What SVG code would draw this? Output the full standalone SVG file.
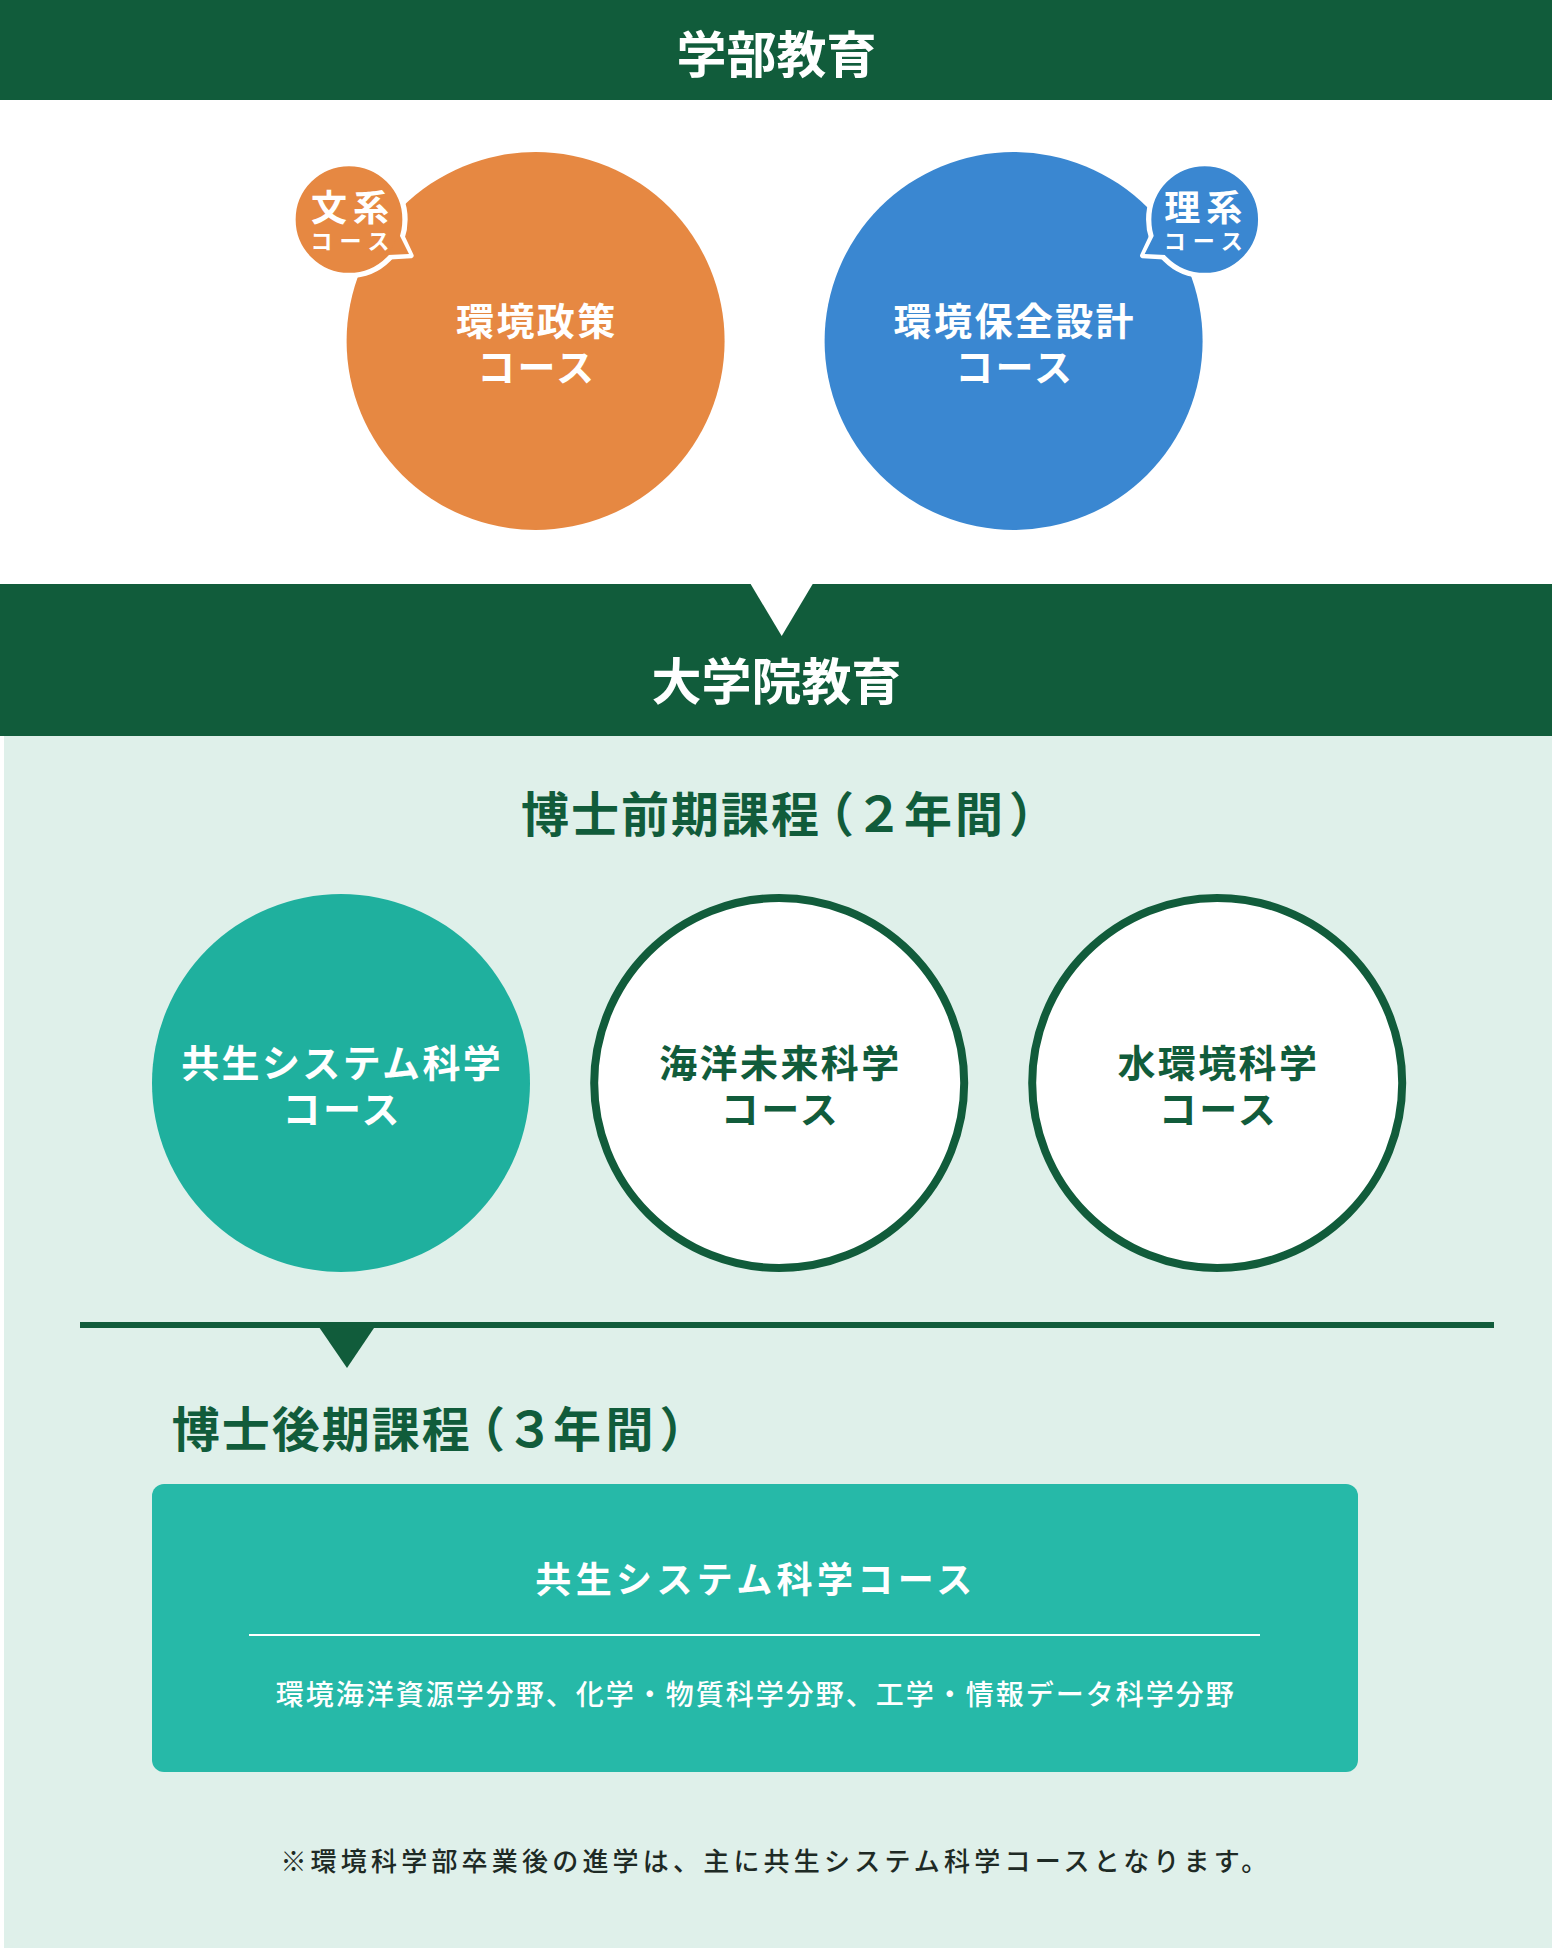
<svg xmlns="http://www.w3.org/2000/svg" width="1552" height="1948" viewBox="0 0 1552 1948">
<style>
text{font-family:'Noto Sans CJK JP','Noto Sans CJK SC','Noto Sans',sans-serif;}
.band{fill:#115C3B}
.hd{fill:#fff;font-size:50px;font-weight:700;text-anchor:middle}
.ct{font-size:38px;font-weight:700;text-anchor:middle;letter-spacing:2.4px}
.w{fill:#fff}
.g{fill:#115C3B}
.ttl{font-size:48px;font-weight:700;fill:#115C3B;text-anchor:middle}
.bub1{font-size:36px;font-weight:700;fill:#fff;text-anchor:middle;letter-spacing:6px}
.bub2{font-size:22px;font-weight:700;fill:#fff;text-anchor:middle;letter-spacing:7px}
.ring{fill:#fff;stroke:#115C3B;stroke-width:8}
.bs{stroke:#fff;stroke-width:5.3;stroke-linejoin:round}
</style>
<rect x="0" y="0" width="1552" height="1948" fill="#fff"/>
<rect x="4" y="736" width="1548" height="1212" fill="#DFF0EA"/>

<g id="header-undergrad">
  <rect class="band" x="0" y="0" width="1552" height="100"/>
  <text class="hd" x="776.5" y="73">学部教育</text>
</g>

<g id="node-env-policy">
  <circle cx="535.6" cy="341" r="189" fill="#E68842"/>
  <text class="ct w" x="536.8" y="335">環境政策</text>
  <text class="ct w" x="536.8" y="381">コース</text>
</g>
<g id="badge-bunkei">
  <polygon class="bs" points="400,232 411,255.5 386,257" fill="#E68842"/>
  <circle class="bs" cx="349" cy="219.5" r="56" fill="#E68842"/>
  <polygon points="399,234 409,254 388,255" fill="#E68842"/>
  <text class="bub1" x="353" y="221">文系</text>
  <text class="bub2" x="353.5" y="249">コース</text>
</g>

<g id="node-env-design">
  <circle cx="1013.6" cy="341" r="189" fill="#3A87D1"/>
  <text class="ct w" x="1014.8" y="335">環境保全設計</text>
  <text class="ct w" x="1014.8" y="381">コース</text>
</g>
<g id="badge-rikei">
  <polygon class="bs" points="1153.7,232 1142.7,255.5 1167.7,257" fill="#3A87D1"/>
  <circle class="bs" cx="1204.7" cy="219.5" r="56" fill="#3A87D1"/>
  <polygon points="1154.7,234 1144.7,254 1165.7,255" fill="#3A87D1"/>
  <text class="bub1" x="1206.3" y="221">理系</text>
  <text class="bub2" x="1206.8" y="249">コース</text>
</g>

<g id="header-grad">
  <rect class="band" x="0" y="584" width="1552" height="152"/>
  <text class="hd" x="776.5" y="700">大学院教育</text>
</g>

<g id="connectors">
  <polygon points="750,583 813.3,583 781.7,636" fill="#fff"/>
  <rect x="80" y="1322" width="1414" height="6" fill="#115C3B"/>
  <polygon points="317.6,1325 376,1325 347,1368" fill="#115C3B"/>
</g>

<g id="title-master">
  <text class="ttl" x="545 595 645 695 745 795 830 879 928 979 1033" y="832">博士前期課程（２年間）</text>
</g>

<g id="node-kyosei">
  <circle cx="341" cy="1083" r="189" fill="#1FB09E"/>
  <text class="ct w" x="342.2" y="1077">共生システム科学</text>
  <text class="ct w" x="342.2" y="1123">コース</text>
</g>
<g id="node-kaiyo">
  <circle class="ring" cx="779.2" cy="1083" r="185"/>
  <text class="ct g" x="780.4" y="1077">海洋未来科学</text>
  <text class="ct g" x="780.4" y="1123">コース</text>
</g>
<g id="node-mizu">
  <circle class="ring" cx="1217.2" cy="1083" r="185"/>
  <text class="ct g" x="1218.4" y="1077">水環境科学</text>
  <text class="ct g" x="1218.4" y="1123">コース</text>
</g>

<g id="title-doctor">
  <text class="ttl" x="195.7 245.7 295.7 345.7 395.7 445.7 481 530 577 629.5 683.6" y="1447">博士後期課程（３年間）</text>
</g>

<g id="node-doctor-course">
  <rect x="152" y="1484" width="1206" height="288" rx="12" fill="#26B9A8"/>
  <text x="756" y="1593" fill="#fff" font-size="36" font-weight="700" text-anchor="middle" letter-spacing="4.4">共生システム科学コース</text>
  <rect x="249" y="1634" width="1011" height="2" fill="#fff"/>
  <text x="755.7" y="1705" fill="#fff" font-size="28" font-weight="500" text-anchor="middle" letter-spacing="2">環境海洋資源学分野、化学・物質科学分野、工学・情報データ科学分野</text>
</g>

<g id="note">
  <text x="776" y="1871" fill="#1E2A25" font-size="26" font-weight="500" text-anchor="middle" letter-spacing="4.2">※環境科学部卒業後の進学は、主に共生システム科学コースとなります。</text>
</g>
</svg>
